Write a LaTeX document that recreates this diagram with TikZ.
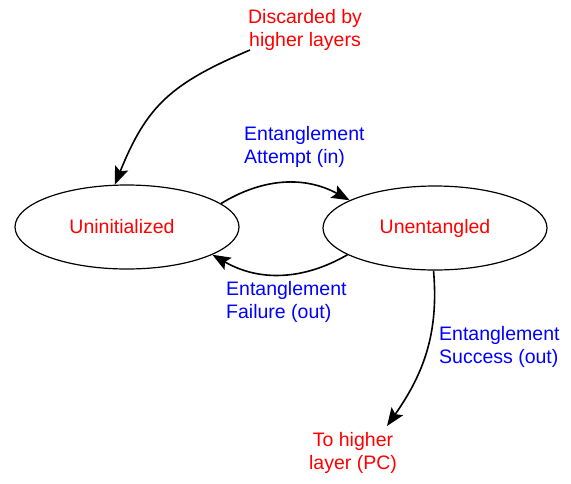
\documentclass[tikz,border=0pt]{standalone}
\usepackage{fontspec}
\setmainfont{Liberation Sans}
\usetikzlibrary{shapes.geometric,arrows.meta}
\begin{document}
\begin{tikzpicture}[x=1pt,y=-1pt,
  font=\fontsize{19.5}{22.5}\selectfont,
  statebox/.style={draw,ellipse,line width=1.2pt,minimum width=224pt,minimum height=84pt,inner sep=0pt,text=red},
  redlabel/.style={text=red,align=center,inner sep=0pt},
  bluelabel/.style={text=blue,align=left,anchor=west,inner sep=0pt},
  flow/.style={line width=1.6pt,-{Stealth[length=18pt,width=14pt,inset=3.5pt]}}]
\useasboundingbox (0,0) rectangle (571,483);

% states
\node[statebox] (ui) at (127,227) {Uninitialized\hspace*{10pt}};
\node[statebox] (ue) at (435,228) {Unentangled};

% outside labels
\node[redlabel] (disc) at (305,30) {Discarded by\\higher layers};
\node[redlabel] (up) at (353,453) {To higher\\layer (PC)};
\coordinate (dstart) at (250,50);
\coordinate (uend) at (387,426);

% transitions
\draw[flow] (dstart) to[out=203,in=68,looseness=1.15] (ui.106);
\draw[flow] (ui.14) to[bend left=30] (ue.162);
\draw[flow] (ue.197) to[bend left=30] (ui.-18);
\draw[flow] (ue.-92) to[out=-85,in=55] (uend);

% transition labels
\node[bluelabel] (la) at (244,147) {Entanglement\\Attempt (in)};
\node[bluelabel] (lf) at (226,302) {Entanglement\\Failure (out)};
\node[bluelabel] (ls) at (439,347) {Entanglement\\Success (out)};
\end{tikzpicture}
\end{document}
